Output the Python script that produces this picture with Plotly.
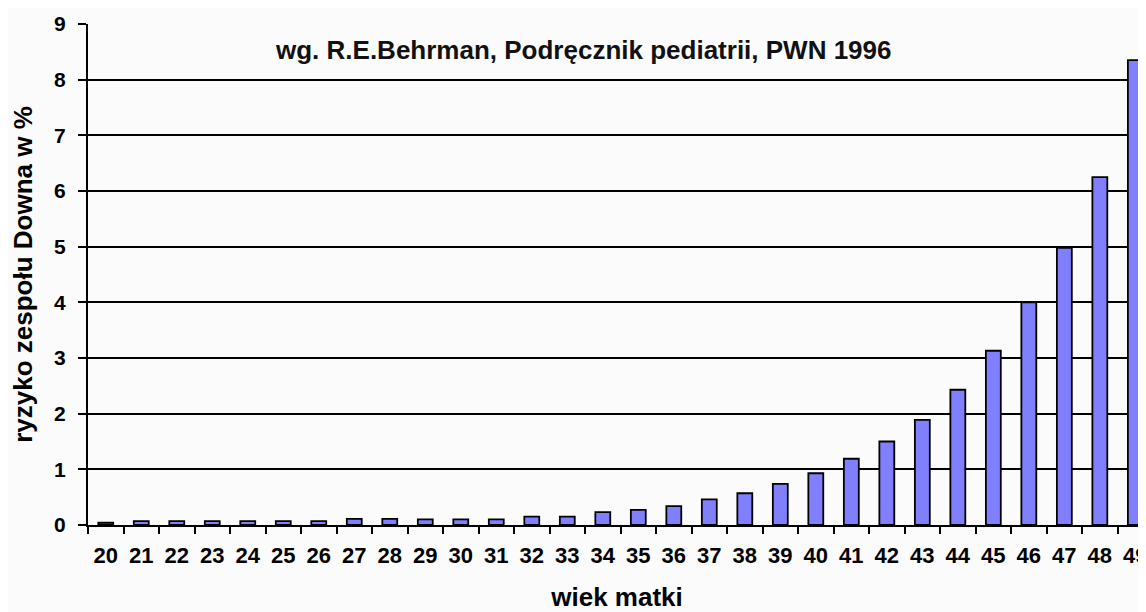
import plotly.graph_objects as go

ages = [str(a) for a in range(20, 50)]
risk = [0.04, 0.07, 0.07, 0.07, 0.07, 0.07, 0.07, 0.11, 0.11, 0.1,
        0.1, 0.1, 0.15, 0.15, 0.23, 0.27, 0.34, 0.46, 0.57, 0.74,
        0.93, 1.19, 1.5, 1.89, 2.43, 3.13, 4.0, 4.98, 6.25, 8.35]
y_ticks = list(range(0, 10))
title_text = "wg. R.E.Behrman, Podręcznik pediatrii, PWN 1996"
x_title = "wiek matki"
y_title = "ryzyko zespołu Downa w %"

FONT = "Liberation Sans, Arial, sans-serif"

# the page body has an 8px margin, so the figure starts at (8, 8)
W, H = 1138, 604
L, T, B, R = 80, 16, 87, 0

fig = go.Figure(go.Bar(
    x=ages, y=risk,
    marker=dict(color="#8080ff", line=dict(color="#000000", width=1.8)),
    width=0.42,
))

fig.update_layout(
    width=W, height=H,
    margin=dict(l=L, r=R, t=T, b=B, autoexpand=False),
    paper_bgcolor="#fbfbfb", plot_bgcolor="#fbfbfb",
    showlegend=False,
    font=dict(family=FONT, color="#000000"),
    annotations=[dict(
        text=title_text, x=(583 - 88) / (W - L - R), xref="paper",
        y=1, yref="paper", showarrow=False,
        xanchor="center", yanchor="top", yshift=-9,
        font=dict(size=26, family=FONT, color="#111111", weight="bold"),
    )],
)

fig.update_xaxes(
    type="category", range=[-0.5, 29.3], automargin=False,
    showline=True, linecolor="#000000", linewidth=2,
    ticks="outside", ticklen=7, tickwidth=2, tickcolor="#000000",
    tickson="boundaries", showgrid=False,
    ticklabelstandoff=10,
    tickfont=dict(size=22, family=FONT, weight="bold"),
    title=dict(text=x_title, standoff=20,
               font=dict(size=26, family=FONT, weight="bold")),
)
fig.update_yaxes(
    range=[0, 9], tickvals=y_ticks, automargin=False,
    showline=True, linecolor="#000000", linewidth=2,
    ticks="outside", ticklen=8, tickwidth=2, tickcolor="#000000",
    showgrid=True, gridcolor="#000000", gridwidth=2,
    zeroline=False,
    ticklabelstandoff=8,
    tickfont=dict(size=21, family=FONT, weight="bold"),
    title=dict(text=y_title, standoff=15,
               font=dict(size=26, family=FONT, weight="bold")),
)

fig.write_html("out.html")
